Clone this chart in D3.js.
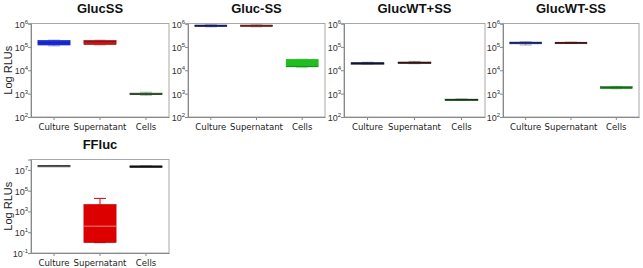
<!DOCTYPE html>
<html>
<head>
<meta charset="utf-8">
<script src="https://cdn.jsdelivr.net/npm/d3@7"></script>
<style>
  body { margin: 0; background: #fff; }
  svg { display: block; font-family: "Liberation Sans", Arial, sans-serif; }
</style>
</head>
<body>
<svg width="643" height="268"></svg>
<script>
// categories on every panel
const categories = ["Culture", "Supernatant", "Cells"];
const panelTitles = ["GlucSS", "Gluc-SS", "GlucWT+SS", "GlucWT-SS", "FFluc"];

// box stats per category: [min, q1, median, q3, max]
const glucSS = [[1.1e5, 1.2e5, 1.5e5, 1.9e5, 1.95e5], [1.2e5, 1.25e5, 1.7e5, 1.9e5, 1.95e5], [8.5e2, 9e2, 9.5e2, 1.05e3, 1.15e3]];
const glucMinusSS = [[7.2e5, 7.5e5, 8e5, 8.6e5, 8.8e5], [7.2e5, 7.5e5, 8e5, 8.6e5, 8.8e5], [1.3e4, 1.4e4, 1.45e4, 2.9e4, 3e4]];
const glucWTplusSS = [[1.85e4, 1.9e4, 2e4, 2.1e4, 2.2e4], [1.9e4, 2e4, 2.1e4, 2.25e4, 2.4e4], [5.3e2, 5.4e2, 5.6e2, 5.8e2, 5.9e2]];
const glucWTminusSS = [[1.2e5, 1.35e5, 1.5e5, 1.6e5, 1.65e5], [1.4e5, 1.42e5, 1.5e5, 1.58e5, 1.6e5], [1.6e3, 1.65e3, 1.8e3, 2e3, 2.05e3]];
const ffluc = [[2.5e7, 2.5e7, 2.6e7, 2.7e7, 2.7e7], [1, 1, 38, 4.7e3, 1.8e4], [2.2e7, 2.2e7, 2.3e7, 2.35e7, 2.35e7]];

// tick exponents
const glucTicks = [2, 3, 4, 5, 6];
const ffTicks = [-1, 1, 3, 5, 7];

const panels = [
  { title: panelTitles[0], data: glucSS, colors: ["#1a2de0", "#c0151a", "#2d5a2d"], x: 31, w: 138, top: 23.5, bottom: 117, dom: [1e2, 1e6], ticks: glucTicks, ylabel: true },
  { title: panelTitles[1], data: glucMinusSS, colors: ["#1d1f6b", "#7a2a2a", "#1fbf1f"], x: 188, w: 137, top: 23.5, bottom: 117, dom: [1e2, 1e6], ticks: glucTicks },
  { title: panelTitles[2], data: glucWTplusSS, colors: ["#141840", "#3a1a1a", "#1a4a1a"], x: 344, w: 141, top: 23.5, bottom: 117, dom: [1e2, 1e6], ticks: glucTicks },
  { title: panelTitles[3], data: glucWTminusSS, colors: ["#1a2a7a", "#4a1818", "#1a8a1a"], x: 503, w: 136, top: 23.5, bottom: 117, dom: [1e2, 1e6], ticks: glucTicks },
  { title: panelTitles[4], data: ffluc, colors: ["#555555", "#dd0000", "#111111"], x: 31, w: 138, top: 159.5, bottom: 253, dom: [1e-1, 1e8], ticks: ffTicks, ylabel: true }
];

const svg = d3.select("svg");

panels.forEach(function (p) {
  const g = svg.append("g").attr("transform", "translate(" + p.x + "," + p.top + ")");
  const h = p.bottom - p.top;

  const x = d3.scaleBand().domain(categories).range([0, p.w]);
  const y = d3.scaleLog().domain(p.dom).range([h, 0]);

  // frame
  g.append("rect")
    .attr("width", p.w).attr("height", h)
    .attr("fill", "none").attr("stroke", "#a8a8a8").attr("stroke-width", 1);

  // y axis
  const yAxis = d3.axisLeft(y)
    .tickValues(p.ticks.map((e) => Math.pow(10, e)))
    .tickSize(3).tickFormat("");
  const ya = g.append("g").call(yAxis);
  ya.select(".domain").attr("stroke", "#888");
  ya.selectAll(".tick line").attr("stroke", "#888");
  ya.selectAll(".tick").each(function (d) {
    const t = d3.select(this).append("text")
      .attr("x", -3).attr("y", 3.5)
      .attr("text-anchor", "end")
      .attr("fill", "#333")
      .style("font-size", "9px");
    t.append("tspan").text("10");
    t.append("tspan").attr("dy", -4).style("font-size", "6px").text(Math.round(Math.log10(d)));
  });

  // x axis
  const xAxis = d3.axisBottom(x).tickSize(3).tickSizeOuter(0);
  const xa = g.append("g").attr("transform", "translate(0," + h + ")").call(xAxis);
  xa.select(".domain").attr("stroke", "#888");
  xa.selectAll(".tick line").attr("stroke", "#888");
  xa.selectAll(".tick text")
    .attr("fill", "#222").attr("dy", "0.71em")
    .style("font-size", "9.5px")
    .style("font-family", "'Liberation Sans Narrow', 'DejaVu Sans Condensed', Arial, sans-serif");

  // boxes
  const bw = x.bandwidth() * 0.7;
  const boxes = g.selectAll(".box")
    .data(p.data)
    .enter()
    .append("g")
    .attr("transform", (d, i) => "translate(" + (x(categories[i]) + x.bandwidth() / 2) + ",0)");

  // whiskers: faint on the thin boxes, solid on the tall one
  const wOp = (d) => (y(d[0]) - y(d[4]) > 15 ? 1 : 0.4);
  boxes.append("line")
    .attr("y1", (d) => y(d[0])).attr("y2", (d) => y(d[4]))
    .attr("stroke", (d, i) => p.colors[i]).attr("stroke-opacity", wOp);
  boxes.append("line")
    .attr("x1", -6).attr("x2", 6)
    .attr("y1", (d) => y(d[4])).attr("y2", (d) => y(d[4]))
    .attr("stroke", (d, i) => p.colors[i]).attr("stroke-opacity", wOp);
  boxes.append("line")
    .attr("x1", -6).attr("x2", 6)
    .attr("y1", (d) => y(d[0])).attr("y2", (d) => y(d[0]))
    .attr("stroke", (d, i) => p.colors[i]).attr("stroke-opacity", wOp);

  boxes.append("rect")
    .attr("x", -bw / 2).attr("width", bw)
    .attr("y", (d) => y(d[3]))
    .attr("height", (d) => Math.max(1.5, y(d[1]) - y(d[3])))
    .attr("fill", (d, i) => p.colors[i])
    .attr("stroke", (d, i) => d3.color(p.colors[i]).darker(0.4))
    .attr("stroke-width", 0.6);

  boxes.append("line")
    .attr("x1", -bw / 2).attr("x2", bw / 2)
    .attr("y1", (d) => y(d[2])).attr("y2", (d) => y(d[2]))
    .attr("stroke", (d, i) => i === 1 && p.title === "FFluc" ? "#f08080" : d3.color(p.colors[i]).darker(0.8))
    .attr("stroke-width", 1);

  // title
  svg.append("text")
    .attr("x", p.x + p.w / 2)
    .attr("y", p.top - 11)
    .attr("text-anchor", "middle")
    .style("font-size", "13px")
    .style("font-weight", "bold")
    .attr("fill", "#111")
    .text(p.title);

  if (p.ylabel) {
    svg.append("text")
      .attr("transform", "rotate(-90)")
      .attr("x", -(p.top + h / 2))
      .attr("y", 12)
      .attr("text-anchor", "middle")
      .style("font-size", "11px")
      .attr("fill", "#222")
      .text("Log RLUs");
  }
});
</script>
</body>
</html>
